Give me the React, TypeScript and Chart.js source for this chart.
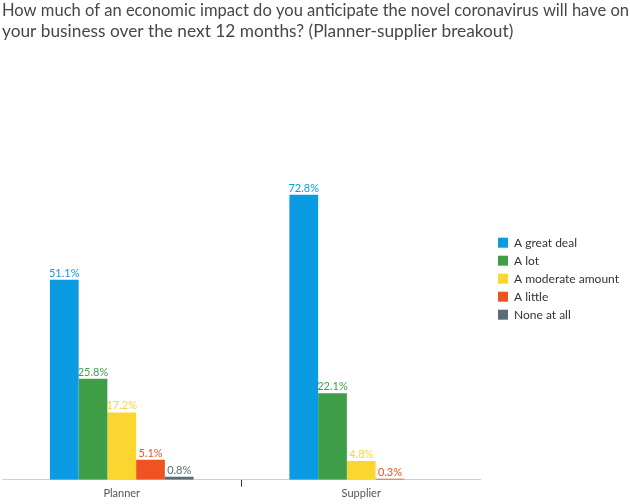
import React, { useEffect, useRef } from "react";
import { Chart, registerables } from "chart.js";

Chart.register(...registerables);

const titleLines = [
  "How much of an economic impact do you anticipate the novel coronavirus will have on",
  "your business over the next 12 months? (Planner-supplier breakout)",
];
const categories = ["Planner", "Supplier"];
const seriesNames = ["A great deal", "A lot", "A moderate amount", "A little", "None at all"];
const greatDeal = [51.1, 72.8];
const aLot = [25.8, 22.1];
const moderate = [17.2, 4.8];
const aLittle = [5.1, 0.3];
const noneAtAll: (number | null)[] = [0.8, null];
const seriesColors = ["#0a9be3", "#3f9e48", "#fbd631", "#ef5223", "#5a6d77"];

const FONT = "Lato, sans-serif";

const valueLabels = {
  id: "valueLabels",
  afterDatasetsDraw(chart: any) {
    const ctx = chart.ctx;
    ctx.save();
    ctx.font = `11px ${FONT}`;
    ctx.textAlign = "center";
    ctx.textBaseline = "bottom";
    chart.data.datasets.forEach((ds: any, i: number) => {
      const meta = chart.getDatasetMeta(i);
      meta.data.forEach((bar: any, j: number) => {
        const v = ds.data[j];
        if (v === null || v === undefined) return;
        ctx.fillStyle = ds.backgroundColor;
        ctx.fillText(v.toFixed(1) + "%", bar.x, bar.y - 1);
      });
    });
    ctx.restore();
  },
};

export default function App() {
  const ref = useRef<HTMLCanvasElement>(null);
  useEffect(() => {
    document.body.style.margin = "0";
    const all = [greatDeal, aLot, moderate, aLittle, noneAtAll];
    const chart = new Chart(ref.current!, {
      type: "bar",
      data: {
        labels: categories,
        datasets: all.map((d, i) => ({
          label: seriesNames[i],
          data: d,
          backgroundColor: seriesColors[i],
          borderWidth: 0,
          categoryPercentage: 0.6,
          barPercentage: 1,
        })),
      },
      options: {
        animation: false,
        responsive: false,
        layout: { padding: { left: 2, right: 1, top: 0, bottom: 4 } },
        plugins: {
          title: {
            display: true,
            text: titleLines,
            align: "start",
            color: "#474747",
            font: { family: FONT, size: 17.3, weight: "normal", lineHeight: 1.22 },
            padding: { top: 0, bottom: 46 },
          },
          legend: {
            position: "right",
            title: { display: true, text: "", padding: { top: 0, bottom: 43 }, font: { size: 12 } },
            labels: {
              boxWidth: 10,
              boxHeight: 10,
              padding: 6,
              color: "#333",
              font: { family: FONT, size: 12 },
            },
          },
          tooltip: { enabled: false },
        },
        scales: {
          x: {
            grid: {
              offset: true,
              drawOnChartArea: false,
              tickLength: 7,
              color: (c: any) => (c.index === 1 ? "#333" : "rgba(0,0,0,0)"),
            },
            border: { display: true, color: "#d0d0d0" },
            ticks: { color: "#555", font: { family: FONT, size: 11 }, padding: 0 },
          },
          y: {
            position: "right",
            display: true,
            min: 0,
            max: 100,
            ticks: { display: false },
            grid: { display: false, drawTicks: false },
            border: { display: false },
            afterFit: (s: any) => {
              s.width = 11;
            },
          },
        },
      },
      plugins: [valueLabels],
    });
    return () => chart.destroy();
  }, []);
  return <canvas ref={ref} width={630} height={504} style={{ display: "block" }} />;
}
